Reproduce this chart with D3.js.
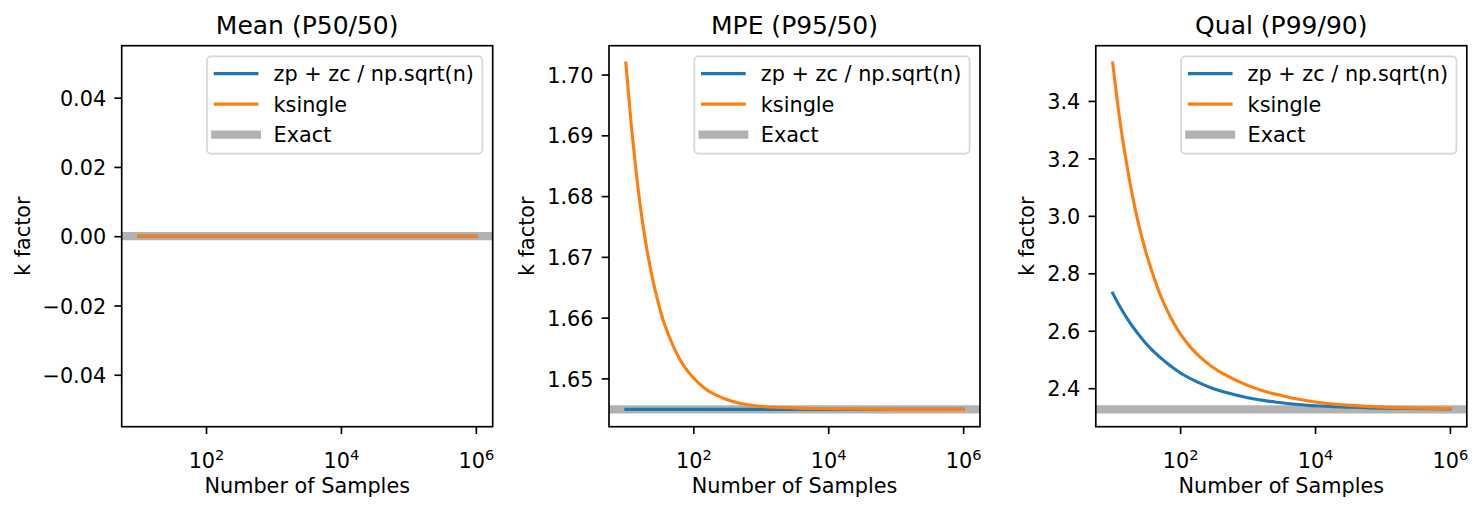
<!DOCTYPE html>
<html>
<head>
<meta charset="utf-8">
<script src="https://cdn.jsdelivr.net/npm/d3@7"></script>
<style>
  body { margin: 0; background: #fff; }
  text { font-family: "DejaVu Sans", sans-serif; fill: #000; }
</style>
</head>
<body>
<div id="chart"></div>
<script>
// ── k factor vs number of samples, three percentile/confidence cases ──
const panelTitles  = ["Mean (P50/50)", "MPE (P95/50)", "Qual (P99/90)"];
const seriesLabels = ["zp + zc / np.sqrt(n)", "ksingle", "Exact"];

// Mean (P50/50)
const meanN        = [10, 100, 1000, 10000, 100000, 1000000];
const meanNormal   = [0, 0, 0, 0, 0, 0];
const meanKsingle  = [0, 0, 0, 0, 0, 0];
const meanExact    = 0;
const meanYTicks   = [-0.04, -0.02, 0, 0.02, 0.04];

// MPE (P95/50)
const mpeN         = [10, 12, 14, 17, 20, 25, 30, 35, 45, 55, 70, 100, 150, 300, 1000, 10000, 100000, 1000000];
const mpeNormal    = [1.6449, 1.6449, 1.6449, 1.6449, 1.6449, 1.6449, 1.6449, 1.6449, 1.6449, 1.6449, 1.6449, 1.6449, 1.6449, 1.6449, 1.6449, 1.6449, 1.6449, 1.6449];
const mpeKsingle   = [1.7019, 1.6918, 1.6846, 1.6770, 1.6719, 1.6663, 1.6626, 1.6599, 1.6566, 1.6544, 1.6523, 1.6501, 1.6483, 1.6466, 1.6454, 1.6450, 1.6449, 1.6449];
const mpeExact     = 1.6449;
const mpeYTicks    = [1.65, 1.66, 1.67, 1.68, 1.69, 1.70];

// Qual (P99/90)
const qualN        = [10, 12, 14, 17, 20, 25, 30, 40, 50, 70, 100, 150, 200, 300, 500, 1000, 2000, 3000, 5000, 10000, 30000, 100000, 1000000];
const qualNormal   = [2.731, 2.696, 2.669, 2.637, 2.613, 2.583, 2.560, 2.529, 2.508, 2.480, 2.454, 2.431, 2.417, 2.400, 2.384, 2.367, 2.355, 2.350, 2.344, 2.339, 2.334, 2.330, 2.328];
const qualKsingle  = [3.532, 3.380, 3.269, 3.150, 3.061, 2.958, 2.887, 2.792, 2.729, 2.653, 2.590, 2.537, 2.507, 2.474, 2.443, 2.410, 2.386, 2.376, 2.364, 2.352, 2.341, 2.334, 2.329];
const qualExact    = 2.3263;
const qualYTicks   = [2.4, 2.6, 2.8, 3.0, 3.2, 3.4];

const xTicks = [1e2, 1e4, 1e6];

const panels = [
  { title: panelTitles[0], n: meanN, normal: meanNormal, ksingle: meanKsingle, exact: meanExact, ticks: meanYTicks, fmt: ".2f" },
  { title: panelTitles[1], n: mpeN,  normal: mpeNormal,  ksingle: mpeKsingle,  exact: mpeExact,  ticks: mpeYTicks,  fmt: ".2f" },
  { title: panelTitles[2], n: qualN, normal: qualNormal, ksingle: qualKsingle, exact: qualExact, ticks: qualYTicks, fmt: ".1f" }
];

const width = 1483, height = 510;
const fs = 20.8, titleFs = 25;
const axTop = 45.7, axW = 371, axH = 381;
const panelLefts = [121.7, 609, 1095.8];
const ylabelOffsets = [91.5, 75.5, 61.5];
const colors = ["#1f77b4", "#ff7f0e", "#b2b2b2"];

const svg = d3.select("#chart").append("svg")
    .attr("width", width).attr("height", height);

panels.forEach((p, i) => {
    const g = svg.append("g").attr("transform", `translate(${panelLefts[i]},${axTop})`);

    // log x with matplotlib-like 5% margins in log space
    const lx = d3.extent(p.n).map(Math.log10);
    const mx = (lx[1] - lx[0]) * 0.05;
    const x = d3.scaleLog().domain([10 ** (lx[0] - mx), 10 ** (lx[1] + mx)]).range([0, axW]);

    let [lo, hi] = d3.extent([...p.normal, ...p.ksingle, p.exact]);
    if (hi - lo === 0) { lo -= 0.05; hi += 0.05; }
    const my = (hi - lo) * 0.05;
    const y = d3.scaleLinear().domain([lo - my, hi + my]).range([axH, 0]);

    const clipId = `clip${i}`;
    g.append("clipPath").attr("id", clipId)
        .append("rect").attr("width", axW).attr("height", axH);
    const plot = g.append("g").attr("clip-path", `url(#${clipId})`);

    // Exact reference line spans the whole axes
    plot.append("line")
        .attr("x1", 0).attr("x2", axW)
        .attr("y1", y(p.exact)).attr("y2", y(p.exact))
        .attr("stroke", colors[2]).attr("stroke-width", 8.3);

    const line = d3.line()
        .x(d => x(d[0])).y(d => y(d[1]))
        .curve(d3.curveMonotoneX);

    [p.normal, p.ksingle].forEach((vals, k) => {
        plot.append("path")
            .datum(p.n.map((n, j) => [n, vals[j]]))
            .attr("d", line)
            .attr("fill", "none")
            .attr("stroke", colors[k])
            .attr("stroke-width", 3.1)
            .attr("stroke-linecap", "square")
            .attr("stroke-linejoin", "round");
    });

    // Y axis
    const yAxis = g.append("g")
        .call(d3.axisLeft(y).tickValues(p.ticks).tickSize(7.3).tickPadding(8.2)
            .tickFormat(d => d3.format(p.fmt)(d).replace("-", "\u2212")));
    yAxis.select(".domain").remove();
    yAxis.attr("font-family", null).attr("font-size", null);
    yAxis.selectAll("line").attr("stroke", "#000").attr("stroke-width", 1.67);
    yAxis.selectAll("text").attr("dy", null).attr("y", 7.6).style("font-size", fs + "px");

    // X axis with 10^k labels
    const xAxis = g.append("g").attr("transform", `translate(0,${axH})`)
        .call(d3.axisBottom(x).tickValues(xTicks).tickSize(7.3).tickFormat(() => ""));
    xAxis.select(".domain").remove();
    xAxis.attr("font-family", null).attr("font-size", null);
    xAxis.selectAll("line").attr("stroke", "#000").attr("stroke-width", 1.67);
    xAxis.selectAll("text").attr("dy", null).attr("y", 41.8)
        .style("font-size", fs + "px")
        .each(function(d) {
            const t = d3.select(this);
            t.text(null);
            t.append("tspan").text("10");
            t.append("tspan").attr("dy", -8.3).style("font-size", "14.6px")
                .text(Math.round(Math.log10(d)));
        });

    // Spines
    g.append("rect").attr("width", axW).attr("height", axH)
        .attr("fill", "none").attr("stroke", "#000").attr("stroke-width", 1.67);

    // Labels
    g.append("text").attr("x", axW / 2).attr("y", 33.5 - axTop)
        .attr("text-anchor", "middle").style("font-size", titleFs + "px")
        .text(p.title);
    g.append("text").attr("x", axW / 2).attr("y", 493 - axTop)
        .attr("text-anchor", "middle").style("font-size", fs + "px")
        .text("Number of Samples");
    g.append("text").attr("transform", "rotate(-90)")
        .attr("x", -axH / 2).attr("y", -ylabelOffsets[i])
        .attr("text-anchor", "middle").style("font-size", fs + "px")
        .text("k factor");

    // Legend
    const legend = g.append("g");
    const box = legend.append("rect")
        .attr("rx", 4).attr("ry", 4)
        .attr("fill", "#fff").attr("fill-opacity", 0.8)
        .attr("stroke", "#d6d6d6").attr("stroke-width", 1.67);
    let textW = 0;
    seriesLabels.forEach((lab, k) => {
        const cy = 17.3 + k * 30.5;
        legend.append("line")
            .attr("x1", 8.3).attr("x2", 49.9).attr("y1", cy).attr("y2", cy)
            .attr("stroke", colors[k]).attr("stroke-width", k === 2 ? 8.3 : 3.1)
            .attr("stroke-linecap", "square");
        const t = legend.append("text").attr("x", 66.5).attr("y", cy + 7.8)
            .style("font-size", fs + "px").text(lab);
        textW = Math.max(textW, t.node().getComputedTextLength());
    });
    const boxW = 66.5 + textW + 8.3;
    box.attr("width", boxW).attr("height", 97.3);
    legend.attr("transform", `translate(${axW - 10.4 - boxW},10.6)`);
});
</script>
</body>
</html>
